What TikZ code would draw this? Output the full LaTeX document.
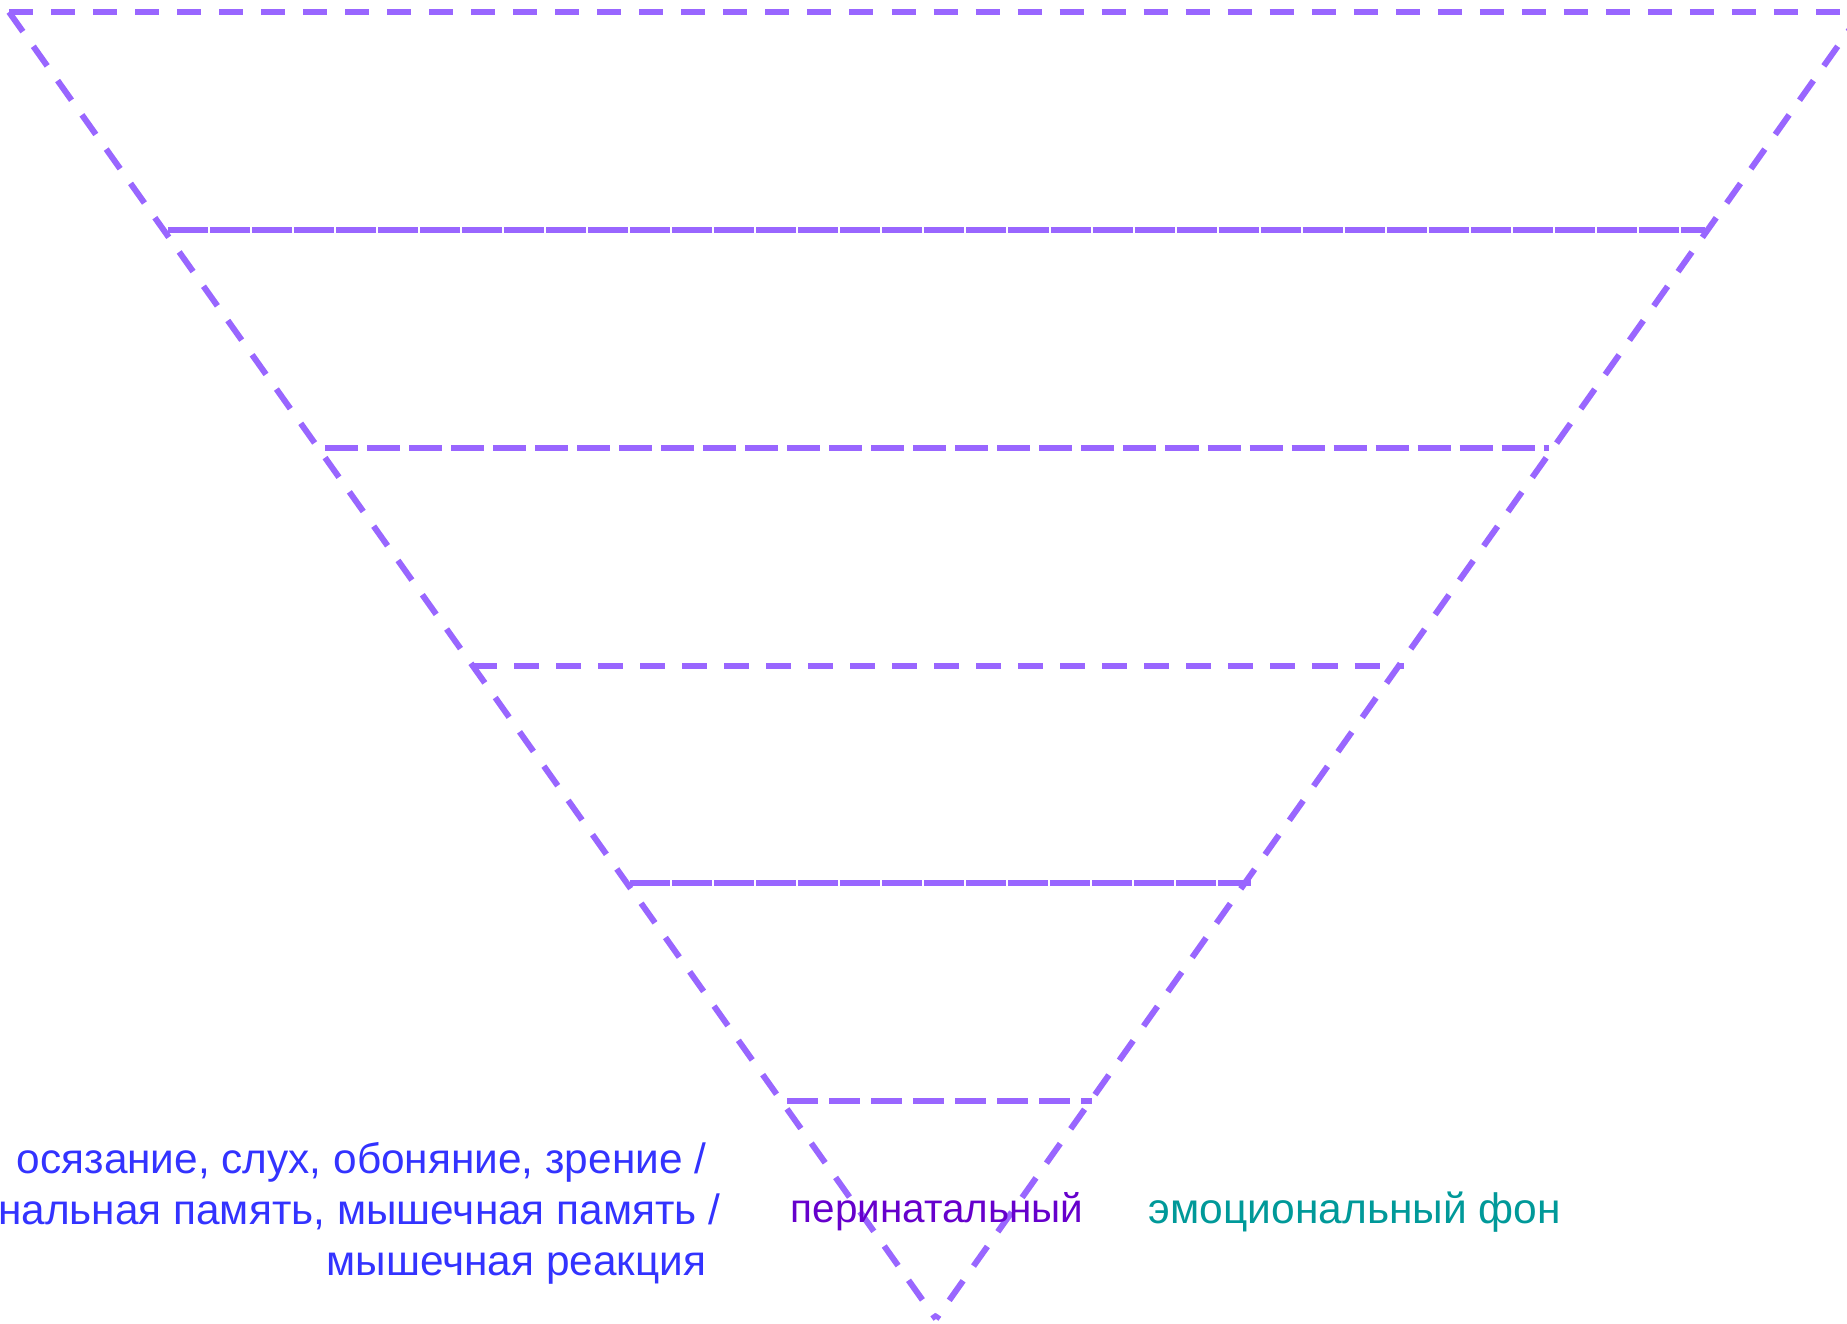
\documentclass[tikz,border=0pt]{standalone}
\usepackage{fontspec}
\setmainfont{Liberation Sans}
\usepackage{xcolor}
\usetikzlibrary{positioning,calc}

\definecolor{funnel}{HTML}{9966FF}
\definecolor{senseblue}{HTML}{3333FF}
\definecolor{periviolet}{HTML}{6600CC}
\definecolor{emoteal}{HTML}{009999}

\begin{document}
\begin{tikzpicture}[x=0.01cm, y=-0.01cm,
        cone/.style={funnel, line width=0.06cm, dash pattern=on 0.24cm off 0.18cm},
        tier/.style={funnel, line width=0.06cm},
        label/.style={font=\fontsize{12.05}{14.5}\selectfont, inner sep=0pt}]
        \useasboundingbox (0,0) rectangle (1847,1323);
        \clip (0,0) rectangle (1847,1323);

        % funnel outline
        \coordinate (tl) at (9,12);
        \coordinate (tr) at (1862,12);
        \coordinate (apex) at (936,1319);
        \draw[cone] (tl) -- (tr);
        \draw[cone] (tl) -- (apex);
        \draw[cone] (tr) -- (apex);

        % tiers
        \draw[tier, dash pattern=on 0.40cm off 0.02cm] (168,230) -- (1705,230);
        \draw[tier, dash pattern=on 0.33cm off 0.09cm] (325,448) -- (1549,448);
        \draw[tier, dash pattern=on 0.25cm off 0.17cm] (472,666) -- (1404,666);
        \draw[tier, dash pattern=on 0.40cm off 0.02cm] (630,883) -- (1251,883);
        \draw[tier, dash pattern=on 0.31cm off 0.11cm] (787,1101) -- (1092,1101);

        % labels
        \node[label, text=senseblue, anchor=base east] (sense) at (707,1173) {осязание, слух, обоняние, зрение /};
        \node[label, text=senseblue, anchor=base east] (memory) at (721,1224) {нальная память, мышечная память /};
        \node[label, text=senseblue, anchor=base east] (reaction) at (707,1275) {мышечная реакция};
        \node[label, text=periviolet, anchor=base, font=\fontsize{11.5}{14}\selectfont] (peri) at (937,1222) {перинатальный};
        \node[label, text=emoteal, anchor=base west, font=\fontsize{12.1}{14.5}\selectfont] (emo) at (1148,1223) {эмоциональный фон};
\end{tikzpicture}
\end{document}
